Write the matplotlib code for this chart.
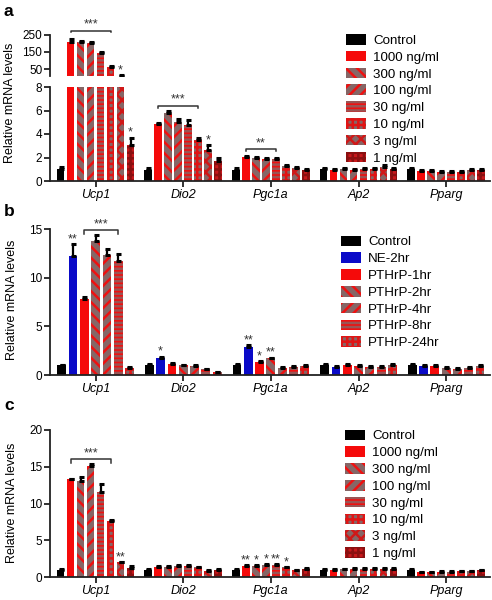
import matplotlib
matplotlib.use("Agg")
import matplotlib.pyplot as plt
from matplotlib.patches import Patch
import numpy as np

plt.rcParams['font.family'] = ['Liberation Sans', 'DejaVu Sans']
plt.rcParams['hatch.linewidth'] = 1.8

genes = ["Ucp1", "Dio2", "Pgc1a", "Ap2", "Pparg"]

# ---------- panel a ----------
labels_a = ["Control", "1000 ng/ml", "300 ng/ml", "100 ng/ml", "30 ng/ml", "10 ng/ml", "3 ng/ml", "1 ng/ml"]
a_control = [1.0, 0.95, 0.95, 1.0, 1.0]
a_1000 = [210, 4.85, 2.02, 0.95, 0.85]
a_300 = [206, 5.75, 1.92, 1.05, 0.85]
a_100 = [199, 5.05, 1.9, 0.95, 0.8]
a_30 = [145, 4.75, 1.9, 1.0, 0.75]
a_10 = [64, 3.5, 1.3, 1.0, 0.8]
a_3 = [12, 2.68, 1.1, 1.2, 0.9]
a_1 = [3.1, 1.68, 0.9, 1.0, 0.9]
a_vals = [a_control, a_1000, a_300, a_100, a_30, a_10, a_3, a_1]
a_err_control = [0.15, 0.15, 0.12, 0.1, 0.1]
a_err_1000 = [15, 0.12, 0.15, 0.1, 0.08]
a_err_300 = [10, 0.2, 0.15, 0.08, 0.08]
a_err_100 = [6, 0.2, 0.08, 0.08, 0.08]
a_err_30 = [3, 0.45, 0.1, 0.1, 0.08]
a_err_10 = [3, 0.12, 0.06, 0.08, 0.08]
a_err_3 = [3, 0.35, 0.08, 0.12, 0.08]
a_err_1 = [0.6, 0.25, 0.08, 0.08, 0.08]
a_errs = [a_err_control, a_err_1000, a_err_300, a_err_100, a_err_30, a_err_10, a_err_3, a_err_1]
a_stars = [(0, 6, "*"), (0, 7, "*"), (1, 6, "*")]
a_brackets = [(0, 1, 5, 272, "***", "top"), (1, 1, 5, 6.4, "***", "bot"), (2, 1, 4, 2.72, "**", "bot")]

# ---------- panel b ----------
labels_b = ["Control", "NE-2hr", "PTHrP-1hr", "PTHrP-2hr", "PTHrP-4hr", "PTHrP-8hr", "PTHrP-24hr"]
b_control = [1.0, 1.0, 1.0, 1.03, 1.0]
b_ne = [12.25, 1.75, 2.92, 0.86, 0.95]
b_1hr = [7.83, 1.15, 1.3, 1.03, 0.95]
b_2hr = [13.77, 1.0, 1.7, 0.93, 0.75]
b_4hr = [12.36, 0.9, 0.75, 0.86, 0.65]
b_8hr = [11.77, 0.6, 0.8, 0.86, 0.75]
b_24hr = [0.75, 0.3, 0.9, 1.0, 0.9]
b_vals = [b_control, b_ne, b_1hr, b_2hr, b_4hr, b_8hr, b_24hr]
b_err_control = [0.08, 0.1, 0.1, 0.08, 0.1]
b_err_ne = [1.2, 0.15, 0.2, 0.08, 0.1]
b_err_1hr = [0.2, 0.08, 0.1, 0.08, 0.1]
b_err_2hr = [0.6, 0.08, 0.1, 0.08, 0.1]
b_err_4hr = [0.6, 0.08, 0.08, 0.08, 0.06]
b_err_8hr = [0.7, 0.06, 0.08, 0.08, 0.08]
b_err_24hr = [0.1, 0.05, 0.1, 0.1, 0.1]
b_errs = [b_err_control, b_err_ne, b_err_1hr, b_err_2hr, b_err_4hr, b_err_8hr, b_err_24hr]
b_stars = [(0, 1, "**"), (1, 1, "*"), (2, 1, "**"), (2, 2, "*"), (2, 3, "**")]
b_brackets = [(0, 2, 5, 14.9, "***", "bot")]

# ---------- panel c ----------
labels_c = labels_a
c_control = [1.0, 1.0, 1.0, 1.0, 1.0]
c_1000 = [13.27, 1.4, 1.55, 1.0, 0.65]
c_300 = [13.1, 1.35, 1.55, 1.05, 0.65]
c_100 = [15.1, 1.5, 1.65, 1.1, 0.7]
c_30 = [11.6, 1.5, 1.7, 1.1, 0.7]
c_10 = [7.6, 1.3, 1.3, 1.1, 0.75]
c_3 = [2.0, 0.85, 0.9, 1.1, 0.8]
c_1 = [1.27, 0.95, 1.1, 1.1, 0.9]
c_vals = [c_control, c_1000, c_300, c_100, c_30, c_10, c_3, c_1]
c_err_control = [0.05, 0.05, 0.1, 0.08, 0.08]
c_err_1000 = [0.1, 0.05, 0.1, 0.08, 0.05]
c_err_300 = [0.5, 0.08, 0.1, 0.08, 0.05]
c_err_100 = [0.3, 0.08, 0.1, 0.08, 0.05]
c_err_30 = [1.1, 0.1, 0.1, 0.1, 0.05]
c_err_10 = [0.2, 0.08, 0.1, 0.08, 0.05]
c_err_3 = [0.1, 0.08, 0.08, 0.08, 0.05]
c_err_1 = [0.2, 0.08, 0.08, 0.08, 0.1]
c_errs = [c_err_control, c_err_1000, c_err_300, c_err_100, c_err_30, c_err_10, c_err_3, c_err_1]
c_stars = [(0, 6, "**"), (2, 1, "**"), (2, 2, "*"), (2, 3, "*"), (2, 4, "**"), (2, 5, "*")]
c_brackets = [(0, 1, 5, 16.0, "***", "bot")]

RED = "#f50a0a"
GREY = "#866666"
DRED = "#c8181c"
style_a = [
    dict(facecolor="black", edgecolor="black", hatch=None),
    dict(facecolor=RED, edgecolor=RED, hatch=None),
    dict(facecolor=GREY, edgecolor="#ee1111", hatch="\\\\\\"),
    dict(facecolor=GREY, edgecolor="#ee1111", hatch="///"),
    dict(facecolor="#ee1111", edgecolor="#9a5555", hatch="----"),
    dict(facecolor=GREY, edgecolor="#e01515", hatch="+++"),
    dict(facecolor=GREY, edgecolor="#d01818", hatch="xxx"),
    dict(facecolor=DRED, edgecolor="#8a1010", hatch="+++"),
]
style_b = [
    dict(facecolor="black", edgecolor="black", hatch=None),
    dict(facecolor="#0a0ac8", edgecolor="#0a0ac8", hatch=None),
    dict(facecolor=RED, edgecolor=RED, hatch=None),
    dict(facecolor=GREY, edgecolor="#ee1111", hatch="\\\\\\"),
    dict(facecolor=GREY, edgecolor="#ee1111", hatch="///"),
    dict(facecolor="#ee1111", edgecolor="#9a5555", hatch="----"),
    dict(facecolor=GREY, edgecolor="#e01515", hatch="+++"),
]

W, H = 492, 600
fig = plt.figure(figsize=(W / 100, H / 100), dpi=100)


def fr(x0, y0, x1, y1):
    return [x0 / W, 1 - y1 / H, (x1 - x0) / W, (y1 - y0) / H]


TICK_FS = 8.5
xpos = np.arange(len(genes))


def style_ax(ax, bottom=True):
    ax.spines["top"].set_visible(False)
    ax.spines["right"].set_visible(False)
    for s in ("left", "bottom"):
        ax.spines[s].set_linewidth(1.3)
        ax.spines[s].set_color("#222222")
    ax.tick_params(axis="both", width=1.3, length=4, labelsize=TICK_FS, color="#222222", pad=1.5)
    ax.set_xlim(-0.52, 4.5)
    if bottom:
        ax.set_xticks(xpos)
        ax.set_xticklabels(genes, fontstyle="italic", fontsize=9)
    else:
        ax.spines["bottom"].set_visible(False)
        ax.set_xticks([])


def draw_bars(ax, vals, errs, styles, slot, width, ymin=0.0):
    n = len(vals)
    for i in range(n):
        off = (i - (n - 1) / 2) * slot
        st = styles[i]
        v = np.asarray(vals[i], dtype=float)
        e = np.asarray(errs[i], dtype=float)
        ax.bar(xpos + off, v, width=width, facecolor=st["facecolor"],
               edgecolor=st["edgecolor"], hatch=st["hatch"], linewidth=0, zorder=2)
        m = (v + e) > ymin
        if m.any():
            ax.errorbar((xpos + off)[m], v[m], yerr=[np.zeros(m.sum()), e[m]], fmt="none",
                        ecolor="black", elinewidth=1.6, capsize=1.8, capthick=2.2, zorder=3)


def star(ax, g, i, txt, vals, errs, n, slot):
    off = (i - (n - 1) / 2) * slot
    y = vals[i][g] + errs[i][g]
    ax.annotate(txt, (g + off, y), xytext=(0, -1), textcoords="offset points",
                ha="center", va="bottom", fontsize=9, color="#333333", annotation_clip=False)


def bracket(ax, g, i0, i1, y, txt, n, slot, tick):
    x0 = g + (i0 - (n - 1) / 2) * slot
    x1 = g + (i1 - (n - 1) / 2) * slot
    ax.plot([x0, x0, x1, x1], [y - tick, y, y, y - tick], color="#333333", lw=1.1, clip_on=False)
    ax.text((x0 + x1) / 2, y, txt, ha="center", va="bottom", fontsize=9, color="#333333")


# ---------- panel a drawing ----------
slot_a, wid_a = 0.114, 0.088
ax_at = fig.add_axes(fr(50, 34.7, 490, 76))
ax_ab = fig.add_axes(fr(50, 87, 490, 181))
draw_bars(ax_at, a_vals, a_errs, style_a, slot_a, wid_a, ymin=11)
draw_bars(ax_ab, a_vals, a_errs, style_a, slot_a, wid_a)
ax_at.set_ylim(10, 250)
ax_at.set_yticks([50, 150, 250])
ax_ab.set_ylim(0, 8)
ax_ab.set_yticks([0, 2, 4, 6, 8])
style_ax(ax_at, bottom=False)
style_ax(ax_ab)
for g, i, t in a_stars:
    target = ax_at if a_vals[i][g] > 8 else ax_ab
    star(target, g, i, t, a_vals, a_errs, 8, slot_a)
for g, i0, i1, y, t, which in a_brackets:
    if which == "top":
        bracket(ax_at, g, i0, i1, y, t, 8, slot_a, 8)
    else:
        bracket(ax_ab, g, i0, i1, y, t, 8, slot_a, 0.2)

# ---------- panel b drawing ----------
slot_b, wid_b = 0.129, 0.1
ax_b = fig.add_axes(fr(50, 229.3, 490, 375))
draw_bars(ax_b, b_vals, b_errs, style_b, slot_b, wid_b)
ax_b.set_ylim(0, 15)
ax_b.set_yticks([0, 5, 10, 15])
style_ax(ax_b)
for g, i, t in b_stars:
    star(ax_b, g, i, t, b_vals, b_errs, 7, slot_b)
for g, i0, i1, y, t, which in b_brackets:
    bracket(ax_b, g, i0, i1, y, t, 7, slot_b, 0.35)

# ---------- panel c drawing ----------
slot_c, wid_c = 0.114, 0.088
ax_c = fig.add_axes(fr(50, 430, 490, 577))
draw_bars(ax_c, c_vals, c_errs, style_a, slot_c, wid_c)
ax_c.set_ylim(0, 20)
ax_c.set_yticks([0, 5, 10, 15, 20])
style_ax(ax_c)
for g, i, t in c_stars:
    star(ax_c, g, i, t, c_vals, c_errs, 8, slot_c)
for g, i0, i1, y, t, which in c_brackets:
    bracket(ax_c, g, i0, i1, y, t, 8, slot_c, 0.45)

# ---------- legends ----------
def legend(labels, styles, x, ytop):
    handles = [Patch(facecolor=s["facecolor"], edgecolor=s["edgecolor"], hatch=s["hatch"],
                     linewidth=0, label=l) for s, l in zip(styles, labels)]
    fig.legend(handles=handles, loc="upper left", bbox_to_anchor=(x / W, 1 - ytop / H),
               frameon=False, fontsize=9.6, handlelength=1.5, handleheight=0.85,
               labelspacing=0.29, handletextpad=0.55, borderaxespad=0, borderpad=0)


legend(labels_a, style_a, 346, 34)
legend(labels_b, style_b, 341, 235.5)
legend(labels_c, style_a, 345, 429.5)

# ---------- labels ----------
fig.text(10 / W, 1 - 103 / H, "Relative mRNA levels", rotation=90, ha="center", va="center", fontsize=9)
fig.text(12 / W, 1 - 300 / H, "Relative mRNA levels", rotation=90, ha="center", va="center", fontsize=9)
fig.text(12 / W, 1 - 503 / H, "Relative mRNA levels", rotation=90, ha="center", va="center", fontsize=9)
fig.text(4 / W, 1 - 12 / H, "a", fontsize=12.5, fontweight="bold", ha="left", va="center")
fig.text(4 / W, 1 - 212 / H, "b", fontsize=12.5, fontweight="bold", ha="left", va="center")
fig.text(4 / W, 1 - 406 / H, "c", fontsize=12.5, fontweight="bold", ha="left", va="center")

fig.savefig("out.png", dpi=100)
